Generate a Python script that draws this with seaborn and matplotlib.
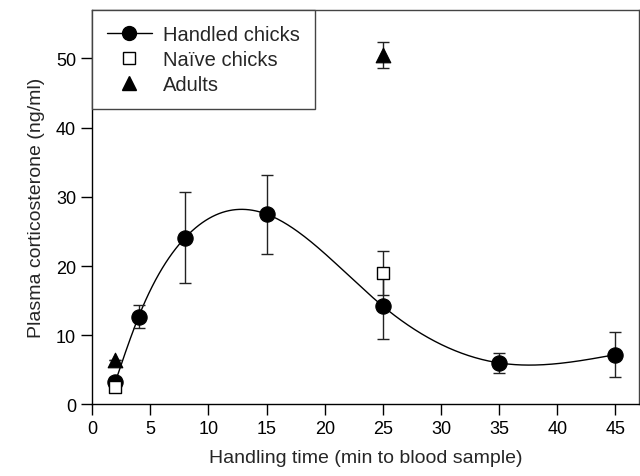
import matplotlib
matplotlib.use("Agg")
import matplotlib.pyplot as plt
from matplotlib.lines import Line2D
import seaborn as sns
import numpy as np
import pandas as pd

# Handled chicks (mean +/- SE)
handled_x = [2, 4, 8, 15, 25, 35, 45]
handled_y = [3.3, 12.7, 24.1, 27.5, 14.2, 6.0, 7.2]
handled_err = [0.6, 1.6, 6.6, 5.7, 4.7, 1.5, 3.2]

# Naive chicks
naive_x = [2, 25]
naive_y = [2.5, 19.0]
naive_err = [0.0, 3.2]

# Adults
adult_x = [2, 25]
adult_y = [6.4, 50.5]
adult_err = [0.0, 1.9]


def natural_spline(x, y, xs):
    # natural cubic spline through the handled means
    x = np.asarray(x, float)
    y = np.asarray(y, float)
    n = len(x)
    h = np.diff(x)
    A = np.zeros((n, n))
    b = np.zeros(n)
    A[0, 0] = A[-1, -1] = 1
    for i in range(1, n - 1):
        A[i, i - 1] = h[i - 1]
        A[i, i] = 2 * (h[i - 1] + h[i])
        A[i, i + 1] = h[i]
        b[i] = 3 * ((y[i + 1] - y[i]) / h[i] - (y[i] - y[i - 1]) / h[i - 1])
    c = np.linalg.solve(A, b)
    out = np.empty_like(xs)
    for k, t in enumerate(xs):
        i = min(max(np.searchsorted(x, t) - 1, 0), n - 2)
        d = (c[i + 1] - c[i]) / (3 * h[i])
        bb = (y[i + 1] - y[i]) / h[i] - h[i] * (2 * c[i] + c[i + 1]) / 3
        dt = t - x[i]
        out[k] = y[i] + bb * dt + c[i] * dt ** 2 + d * dt ** 3
    return out


sns.set_style("ticks")
plt.rcParams["font.family"] = ["Liberation Sans", "DejaVu Sans"]

fig = plt.figure(figsize=(6.4, 4.77), dpi=100)
ax = fig.add_axes([0.144, 0.150, 0.854, 0.827])

xs = np.linspace(handled_x[0], handled_x[-1], 300)
curve = pd.DataFrame({"x": xs, "y": natural_spline(handled_x, handled_y, xs)})
sns.lineplot(data=curve, x="x", y="y", ax=ax, color="black", lw=1.0, zorder=2)

eb = dict(fmt="none", ecolor="#222222", elinewidth=1.0, capsize=4.5, capthick=1.0)
ax.errorbar(handled_x, handled_y, yerr=handled_err, zorder=3, **eb)
ax.errorbar(naive_x, naive_y, yerr=naive_err, zorder=3, **eb)
ax.errorbar(adult_x, adult_y, yerr=adult_err, zorder=3, **eb)

sns.scatterplot(x=handled_x, y=handled_y, ax=ax, marker="o", s=120,
                color="black", edgecolor="black", zorder=4)
sns.scatterplot(x=adult_x, y=adult_y, ax=ax, marker="^", s=110,
                color="black", edgecolor="black", zorder=4)
sns.scatterplot(x=naive_x, y=naive_y, ax=ax, marker="s", s=80,
                color="white", edgecolor="black", linewidth=1.0, zorder=5)

ax.set_xlim(0, 47)
ax.set_ylim(0, 57)
ax.set_xticks(range(0, 46, 5))
ax.set_yticks(range(0, 51, 10))
ax.tick_params(direction="out", length=8, width=1.0, labelsize=13, colors="black")
for s in ax.spines.values():
    s.set_visible(True)
    s.set_linewidth(1.0)
    s.set_color("#444444")
ax.spines["left"].set_color("black")
ax.spines["bottom"].set_color("black")

ax.set_xlabel("Handling time (min to blood sample)", fontsize=14, labelpad=8)
ax.set_ylabel("Plasma corticosterone (ng/ml)", fontsize=14, labelpad=8)

handles = [
    Line2D([], [], color="black", lw=1.0, marker="o", markersize=10),
    Line2D([], [], color="none", marker="s", markersize=9,
           markerfacecolor="white", markeredgecolor="black"),
    Line2D([], [], color="none", marker="^", markersize=10,
           markerfacecolor="black", markeredgecolor="black"),
]
leg = ax.legend(handles, ["Handled chicks", "Naïve chicks", "Adults"],
                loc="upper left", borderaxespad=0, fancybox=False,
                framealpha=1, edgecolor="#444444", fontsize=14.5,
                handlelength=2.2, handletextpad=0.55, labelspacing=0.3,
                borderpad=0.75)
leg.get_frame().set_linewidth(1.0)

fig.savefig("out.png", dpi=100)
